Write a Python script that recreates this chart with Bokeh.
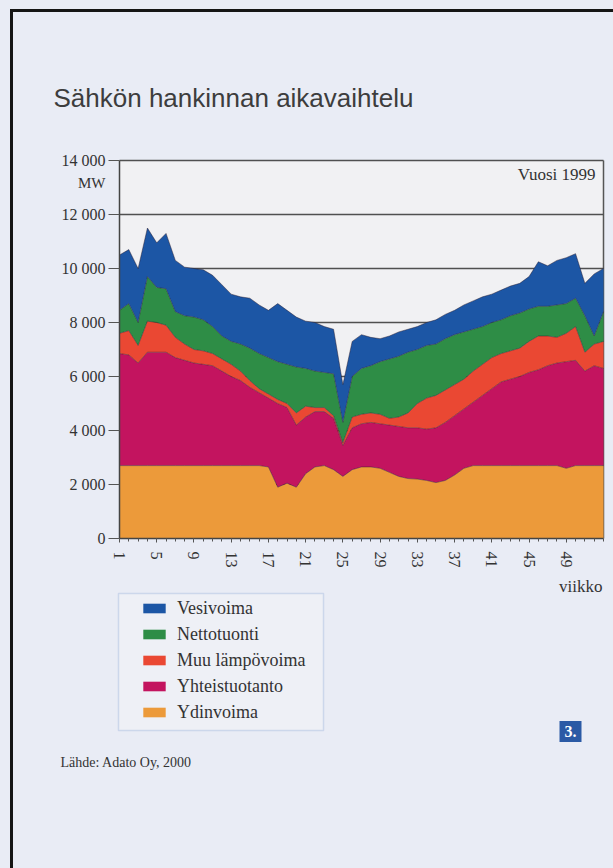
from bokeh.plotting import figure
from bokeh.models import (ColumnDataSource, Range1d, FixedTicker, Label, Legend,
                          LegendItem, BoxAnnotation, GlobalInlineStyleSheet)
from bokeh.embed import file_html
from bokeh.resources import INLINE

# ---------------- data (MW, weekly averages, 1999) ----------------
weeks = list(range(1, 54))

ydinvoima = [2700, 2700, 2700, 2700, 2700, 2700, 2700, 2700, 2700, 2700,
             2700, 2700, 2700, 2700, 2700, 2700, 2650, 1900, 2050, 1900,
             2400, 2650, 2700, 2550, 2300, 2550, 2650, 2650, 2600, 2450,
             2300, 2220, 2200, 2150, 2070, 2150, 2350, 2600, 2700, 2700,
             2700, 2700, 2700, 2700, 2700, 2700, 2700, 2700, 2600, 2700,
             2700, 2700, 2700]

yhteistuotanto = [4150, 4100, 3800, 4200, 4200, 4200, 4000, 3900, 3800, 3750,
                  3700, 3500, 3300, 3150, 2900, 2700, 2550, 3100, 2800, 2300,
                  2100, 2050, 2000, 1900, 1150, 1550, 1600, 1650, 1650, 1750,
                  1850, 1880, 1900, 1900, 2030, 2150, 2200, 2200, 2350, 2600,
                  2850, 3100, 3200, 3300, 3450, 3550, 3700, 3800, 3950, 3900,
                  3500, 3700, 3600]

muu_lampovoima = [750, 900, 650, 1150, 1100, 1000, 750, 600, 500, 500,
                  450, 450, 450, 350, 250, 150, 150, 150, 150, 450,
                  400, 150, 150, 100, 100, 400, 350, 350, 350, 250,
                  350, 550, 900, 1150, 1200, 1200, 1150, 1100, 1150, 1150,
                  1150, 1050, 1050, 1050, 1150, 1250, 1100, 950, 1050, 1250,
                  700, 800, 1000]

nettotuonti = [850, 1000, 850, 1650, 1300, 1350, 950, 1050, 1200, 1150,
               1000, 850, 850, 1000, 1200, 1300, 1350, 1400, 1450, 1700,
               1400, 1350, 1300, 1550, 750, 1500, 1700, 1750, 1950, 2200,
               2250, 2250, 2000, 1950, 1900, 1900, 1850, 1750, 1550, 1400,
               1300, 1250, 1300, 1300, 1200, 1100, 1100, 1200, 1100, 1050,
               1350, 300, 1100]

vesivoima = [2050, 2000, 2000, 1800, 1650, 2050, 1900, 1800, 1800, 1850,
             1900, 1900, 1750, 1750, 1850, 1800, 1750, 2150, 2000, 1850,
             1750, 1800, 1700, 1650, 1400, 1300, 1250, 1050, 850, 850,
             900, 850, 850, 850, 900, 900, 900, 1000, 1050, 1100,
             1050, 1100, 1100, 1100, 1200, 1650, 1500, 1650, 1700, 1650,
             1200, 2300, 1600]

series_keys = ["ydinvoima", "yhteistuotanto", "muu", "netto", "vesi"]
series_labels = ["Ydinvoima", "Yhteistuotanto", "Muu lämpövoima", "Nettotuonti", "Vesivoima"]
series_colors = ["#ec9a3a", "#c3145f", "#ea4833", "#2e8d46", "#1c56a5"]

x_ticks = [1, 5, 9, 13, 17, 21, 25, 29, 33, 37, 41, 45, 49]
y_ticks = [0, 2000, 4000, 6000, 8000, 10000, 12000, 14000]
y_tick_labels = ["0", "2 000", "4 000", "6 000", "8 000", "10 000", "12 000", "14 000"]

title_text = "Sähkön hankinnan aikavaihtelu"
year_text = "Vuosi 1999"
unit_text = "MW"
xlabel_text = "viikko"
source_text = "Lähde: Adato Oy, 2000"
page_no = "3."

# ---------------- page geometry (pixels) ----------------
W, H = 613, 868
FX0, FX1 = 119, 603        # chart frame left / right
FY0, FY1 = 160, 538        # chart frame top / bottom
xs = (FX1 - FX0) / (weeks[-1] - weeks[0])
ys = (FY1 - FY0) / (y_ticks[-1] - y_ticks[0])
x_start = weeks[0] - FX0 / xs
x_end = weeks[-1] + (W - FX1) / xs
y_start = y_ticks[0] - (H - FY1) / ys
y_end = y_ticks[-1] + FY0 / ys


def dx(px):
    return x_start + px / xs


def dy(py):
    return y_start + (H - py) / ys


SERIF = "Liberation Serif"
PAGE_BG = "#e9ecf5"

source = ColumnDataSource(dict(week=weeks, ydinvoima=ydinvoima, yhteistuotanto=yhteistuotanto,
                               muu=muu_lampovoima, netto=nettotuonti, vesi=vesivoima))

p = figure(width=W, height=H, x_range=Range1d(x_start, x_end), y_range=Range1d(y_start, y_end),
           output_backend="svg", toolbar_location=None, min_border=0, title=None)
p.border_fill_color = PAGE_BG
p.background_fill_color = PAGE_BG
p.outline_line_color = None

# chart background
p.add_layout(BoxAnnotation(left=weeks[0], right=weeks[-1], bottom=y_ticks[0], top=y_ticks[-1],
                           fill_color="#f1f1f3", fill_alpha=1.0, line_color=None, level="image"))

areas = p.varea_stack(stackers=series_keys, x="week", color=series_colors, source=source)
p.vline_stack(stackers=series_keys, x="week", source=source,
              line_color="#2a1a2a", line_alpha=0.45, line_width=1)

# axes fixed at the chart frame
xa = p.xaxis[0]
xa.fixed_location = y_ticks[0]
xa.bounds = (weeks[0], weeks[-1])
xa.ticker = FixedTicker(ticks=x_ticks, minor_ticks=weeks)
xa.major_label_orientation = "vertical"
xa.major_label_text_font = SERIF
xa.major_label_text_font_size = "16px"
xa.major_label_text_color = "#333333"
xa.axis_line_color = "#444444"
xa.axis_line_width = 1.5
xa.major_tick_in = 0
xa.major_tick_out = 4
xa.minor_tick_in = 0
xa.minor_tick_out = 3
xa.major_tick_line_color = "#555555"
xa.minor_tick_line_color = "#555555"
xa.major_label_standoff = 9

ya = p.yaxis[0]
ya.fixed_location = weeks[0]
ya.bounds = (y_ticks[0], y_ticks[-1])
ya.ticker = FixedTicker(ticks=y_ticks)
ya.major_label_overrides = dict(zip(y_ticks, y_tick_labels))
ya.major_label_text_font = SERIF
ya.major_label_text_font_size = "16px"
ya.major_label_text_color = "#333333"
ya.axis_line_color = "#444444"
ya.axis_line_width = 1.5
ya.major_tick_in = 0
ya.major_tick_out = 11
ya.major_tick_line_color = "#555555"
ya.minor_tick_line_color = None
ya.major_label_standoff = 3

# grid lines (horizontal) and right-hand frame line, limited to the chart box
p.ygrid.ticker = FixedTicker(ticks=y_ticks[1:])
p.ygrid.bounds = (y_ticks[0], y_ticks[-1])
p.ygrid.cross_bounds = (weeks[0], weeks[-1])
p.ygrid.grid_line_color = "#505050"
p.ygrid.grid_line_width = 1.5
p.xgrid.ticker = FixedTicker(ticks=[weeks[-1]])
p.xgrid.bounds = (weeks[0], weeks[-1])
p.xgrid.cross_bounds = (y_ticks[0], y_ticks[-1])
p.xgrid.grid_line_color = "#555555"
p.xgrid.grid_line_width = 1.5


def lab(px, py, text, size, font=SERIF, align="left", baseline="middle", color="#333333", **kw):
    l = Label(x=dx(px), y=dy(py), text=text, text_font=font, text_font_size=size,
              text_color=color, text_align=align, text_baseline=baseline, **kw)
    p.add_layout(l)
    return l


lab(53, 97, title_text, "26px", font="Liberation Sans", baseline="alphabetic", color="#3d3d3d")
lab(105, 182, unit_text, "15px", align="right")
lab(595, 174, year_text, "17px", align="right")
lab(602, 586, xlabel_text, "17px", align="right")
lab(60, 762, source_text, "14px")
lab(570, 731, page_no, "16px", align="center", color="white",
    text_font_style="bold", background_fill_color="#2b5aa5", padding=5)

# legend frame
p.add_layout(BoxAnnotation(left=dx(118), right=dx(323), top=dy(593), bottom=dy(730),
                           fill_color="#eef0f6", fill_alpha=1.0,
                           line_color="#86a3d3", line_width=1.5))

ROW_H, ROW_GAP, N = 21, 5, 5
leg_h = N * ROW_H + (N - 1) * ROW_GAP
order = [4, 3, 2, 1, 0]
legend = Legend(items=[LegendItem(label=series_labels[i], renderers=[areas[i]]) for i in order],
                location=(140, H - (608 - ROW_H / 2) - leg_h), orientation="vertical",
                label_text_font=SERIF, label_text_font_size="18px", label_text_color="#333333",
                glyph_width=28, glyph_height=12, label_height=ROW_H, spacing=ROW_GAP, padding=0,
                label_standoff=9, margin=0,
                border_line_color=None, background_fill_alpha=0.0)
p.add_layout(legend)

p.stylesheets = [GlobalInlineStyleSheet(css="""
html, body { background: #e9ecf5; }
body::before { content: ''; position: fixed; left: 10px; top: 9px; right: -20px; bottom: -20px;
  border-left: 3px solid #151515; border-top: 3px solid #151515; pointer-events: none; z-index: 5; }
""")]

open("out.html", "w").write(file_html(p, INLINE))
